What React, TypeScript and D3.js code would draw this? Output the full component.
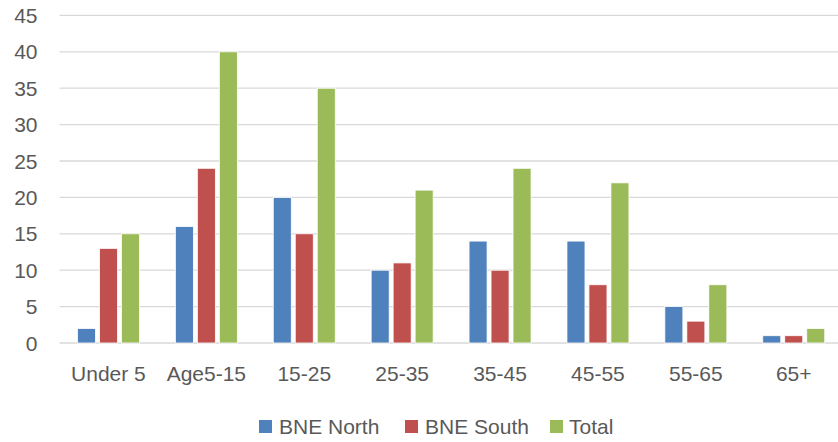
import React from "react";
import * as d3 from "d3";

const categories = ["Under 5", "Age5-15", "15-25", "25-35", "35-45", "45-55", "55-65", "65+"];
const seriesNames = ["BNE North", "BNE South", "Total"];
const bneNorth = [2, 16, 20, 10, 14, 14, 5, 1];
const bneSouth = [13, 24, 15, 11, 10, 8, 3, 1];
const total = [15, 40, 35, 21, 24, 22, 8, 2];
const yTicks = [0, 5, 10, 15, 20, 25, 30, 35, 40, 45];
const colors = ["#4F81BD", "#C0504D", "#9BBB59"];

const W = 838;
const H = 442;
const FONT = "'Liberation Sans', Arial, sans-serif";
const FS = 21;

export default function App() {
  const seriesValues = [bneNorth, bneSouth, total];
  const x = d3.scaleBand<string>().domain(categories).range([59.5, 842.7]).padding(0);
  const x1 = d3.scaleBand<string>().domain(seriesNames).range([-31, 31]).paddingInner(0.18);
  const y = d3.scaleLinear().domain([0, 45]).range([343, 15.4]);

  const legendItems = [
    { name: seriesNames[0], sx: 259, tx: 279 },
    { name: seriesNames[1], sx: 405, tx: 425 },
    { name: seriesNames[2], sx: 550, tx: 569 },
  ];

  return (
    <svg width={W} height={H} style={{ position: "absolute", left: 0, top: 0, background: "#fff" }}>
      {yTicks.map((t) => (
        <g key={t}>
          <line x1={59.5} x2={W} y1={y(t)} y2={y(t)} stroke="#d9d9d9" strokeWidth={1.3} />
          <text x={37.5} y={y(t) + 7.5} textAnchor="end" fontFamily={FONT} fontSize={FS} fill="#595959">
            {t}
          </text>
        </g>
      ))}
      {categories.map((c, i) => (
        <g key={c} transform={`translate(${x(c)! + x.bandwidth() / 2},0)`}>
          {seriesNames.map((s, j) => {
            const v = seriesValues[j][i];
            return (
              <rect
                key={s}
                x={x1(s)!}
                y={y(v)}
                width={x1.bandwidth()}
                height={y(0) - y(v)}
                fill={colors[j]}
                stroke="#fff"
                strokeWidth={0.8}
              />
            );
          })}
          <text x={0} y={381} textAnchor="middle" fontFamily={FONT} fontSize={FS} fill="#595959">
            {c}
          </text>
        </g>
      ))}
      {legendItems.map((it, j) => (
        <g key={it.name}>
          <rect x={it.sx} y={420} width={13} height={13} fill={colors[j]} />
          <text x={it.tx} y={434} fontFamily={FONT} fontSize={FS} fill="#595959">
            {it.name}
          </text>
        </g>
      ))}
    </svg>
  );
}
